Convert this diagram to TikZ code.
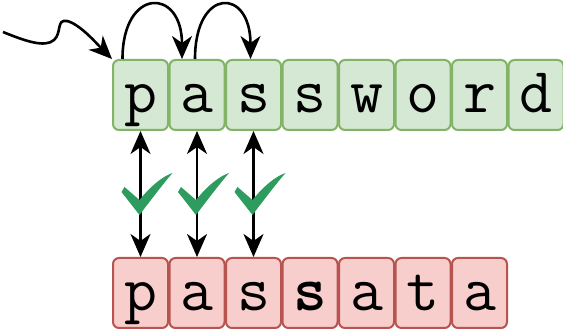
\documentclass[tikz,border=0pt]{standalone}
\usetikzlibrary{arrows.meta,calc}
\definecolor{goodfill}{HTML}{D5E8D4}
\definecolor{goodline}{HTML}{82B366}
\definecolor{badfill}{HTML}{F8CECC}
\definecolor{badline}{HTML}{B85450}
\definecolor{tickgreen}{HTML}{2D9C5E}
\tikzstyle{letter}=[rounded corners=6pt, line width=2pt, minimum width=55pt, minimum height=70pt, inner sep=0pt, text height=44pt, text depth=8pt, font=\ttfamily\fontsize{64}{64}\selectfont]
\tikzstyle{keybox}=[letter, draw=goodline, fill=goodfill]
\tikzstyle{inbox}=[letter, draw=badline, fill=badfill]
\tikzstyle{arrowline}=[-{Stealth[length=23pt,width=20pt,inset=7pt]}, line width=2.6pt]
\tikzstyle{bothways}=[arrowline, {Stealth[length=23pt,width=20pt,inset=7pt]}-{Stealth[length=23pt,width=20pt,inset=7pt]}]
\newcommand{\tick}[1]{%
\fill[tickgreen] (#1) -- ++(-18,23) -- ++(3,5) -- ++(15,-13) .. controls ++(12,15) and ++(-9,-3) .. ++(33,27) .. controls ++(-7,-8) and ++(12,16) .. ++(-33,-42) -- cycle;
}

\begin{document}
\begin{tikzpicture}[x=1pt,y=1pt]
\useasboundingbox (0,0) rectangle (563,331);
\foreach \l [count=\i] in {p,a,s,s,w,o,r,d} {
	\node[keybox] (t\i) at (140.5+56.5*\i-56.5,236) {\l};
}
\foreach \l [count=\i] in {p,a,s,{\bfseries s},a,t,a} {
	\node[inbox] (b\i) at (140.5+56.5*\i-56.5,38) {\l};
}
\coordinate (start) at (3,299);
\draw[arrowline] (start) .. controls (25,290) and (45,283) .. (54,291) .. controls (62,298) and (56,312) .. (67,310) .. controls (80,307) and (98,286) .. (t1.north west);
\draw[arrowline] ([xshift=-18pt]t1.north) .. controls ([xshift=-18pt,yshift=72pt]t1.north) and ([xshift=-15pt,yshift=72pt]t2.north) .. ([xshift=-15pt]t2.north);
\draw[arrowline] ([xshift=-2pt]t2.north) .. controls ([xshift=-2pt,yshift=72pt]t2.north) and ([xshift=-3pt,yshift=72pt]t3.north) .. ([xshift=-3pt]t3.north);
\foreach \i in {1,2,3} {
	\draw[bothways] (t\i.south) -- (b\i.north);
	\tick{$(t\i.south)!0.5!(b\i.north)+(-1,-21)$}
}
\end{tikzpicture}
\end{document}
